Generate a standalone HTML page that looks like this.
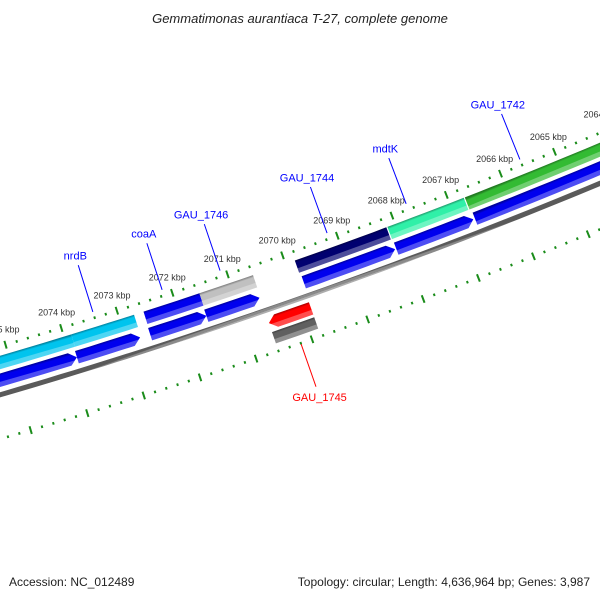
<!DOCTYPE html>
<html><head><meta charset="utf-8"><style>
html,body{margin:0;padding:0;background:#fff;}
svg{display:block;font-family:"Liberation Sans",sans-serif;}
</style></head><body>
<svg id="map" width="600" height="600" viewBox="0 0 600 600">
<defs id="defs"></defs>
<text x="300" y="23" text-anchor="middle" font-size="13" font-style="italic" fill="#222">Gemmatimonas aurantiaca T-27, complete genome</text>
<g id="ticks"></g>
<g id="genes"></g>
<g id="labels"></g>
<text x="9" y="586" font-size="12" fill="#222">Accession: NC_012489</text>
<text x="590" y="586" text-anchor="end" font-size="12" fill="#222">Topology: circular; Length: 4,636,964 bp; Genes: 3,987</text>
</svg>
<script>
// data (kbp)
const tickKbp = [2076,2075,2074,2073,2072,2071,2070,2069,2068,2067,2066,2065,2064,2063];
const tickLabels = ["2076 kbp","2075 kbp","2074 kbp","2073 kbp","2072 kbp","2071 kbp","2070 kbp","2069 kbp","2068 kbp","2067 kbp","2066 kbp","2065 kbp","2064 kbp","2063 kbp"];
const featStart = [2077.0, 2073.87, 2072.57, 2071.56, 2069.83, 2068.14, 2066.72];
const featEnd   = [2073.87, 2072.74, 2071.56, 2070.59, 2068.16, 2066.74, 2062.5];
const featColor = ["#00c4ee","#00c4ee","#0000ee","#c0c0c0","#000070","#30f0a8","#33bb33"];
const cdsStart = [2077.5, 2073.89, 2072.58, 2071.57, 2069.81, 2068.13, 2066.69];
const cdsEnd   = [2073.89, 2072.76, 2071.57, 2070.61, 2068.15, 2066.72, 2062.5];
const revStart = [2070.6];
const revEnd   = [2069.84];
const geneNames = ["nrdB","coaA","GAU_1746","GAU_1744","mdtK","GAU_1742","GAU_1745"];
const geneLabelKbp = [2073.4, 2072.15, 2071.1, 2069.15, 2067.7, 2065.6, 2070.2];

const NS="http://www.w3.org/2000/svg";
const CX=-1591.5, CY=-5078, R0=5653;
function P(k,r){const f=(73.0+0.59*(k-2074))*Math.PI/180;const R=R0+r;return [CX+R*Math.cos(f),CY+R*Math.sin(f)];}
function mk(tag,attrs,parent){const e=document.createElementNS(NS,tag);for(const a in attrs)e.setAttribute(a,attrs[a]);parent.appendChild(e);return e;}
const defs=document.getElementById('defs');
let gid=0;
function shade(hex,f){let n=parseInt(hex.slice(1),16);let r=n>>16,g=(n>>8)&255,b=n&255;
 if(f<0){r=r*(1+f);g=g*(1+f);b=b*(1+f);}else{r=r+(255-r)*f;g=g+(255-g)*f;b=b+(255-b)*f;}
 return "rgb("+Math.round(r)+","+Math.round(g)+","+Math.round(b)+")";}
function grad(k,r1,r2,col){const id="g"+(gid++);const a=P(k,r1),b=P(k,r2);
 const lg=mk('linearGradient',{id:id,gradientUnits:'userSpaceOnUse',x1:a[0],y1:a[1],x2:b[0],y2:b[1]},defs);
 const st=[[0,shade(col,-0.35)],[0.18,col],[0.6,col],[0.64,shade(col,0.3)],[1,shade(col,0.3)]];
 st.forEach(s=>mk('stop',{offset:s[0],'stop-color':s[1]},lg));return "url(#"+id+")";}
function arcPts(k1,k2,r){const pts=[];const n=Math.max(2,Math.ceil(Math.abs(k1-k2)*4));for(let i=0;i<=n;i++){pts.push(P(k1+(k2-k1)*i/n,r));}return pts;}
function band(kHi,kLo,r1,r2,col,head,parent,name){ // head: 0 none, 1 at kLo, -1 at kHi
 const h=0.13;const rm=(r1+r2)/2;let pts=[];
 let a=kHi,b=kLo;
 if(head===1)b=kLo+h; if(head===-1)a=kHi-h;
 pts=pts.concat(arcPts(a,b,r1));
 if(head===1)pts.push(P(kLo,rm));
 pts=pts.concat(arcPts(b,a,r2));
 if(head===-1)pts.push(P(kHi,rm));
 const e=mk('polygon',{points:pts.map(p=>p[0].toFixed(1)+","+p[1].toFixed(1)).join(" "),fill:grad((kHi+kLo)/2,r1,r2,col)},parent);
 
 
 return e;}

// ticks
const tg=document.getElementById('ticks');
[0,89].forEach(rr=>{
 for(let t=2063*5;t<=2077*5;t++){const k=t/5;const major=(t%5===0);const L=major?4:1.3;
  const a=P(k,rr-L),b=P(k,rr+L);
  const l=mk('line',{x1:a[0],y1:a[1],x2:b[0],y2:b[1],stroke:'#1a8c1a','stroke-width':2},tg);
  
  }
});
tickKbp.forEach((k,i)=>{const p=P(k,-16);
 const t=mk('text',{x:p[0].toFixed(1),y:(p[1]+3).toFixed(1),'text-anchor':'middle','font-size':9,fill:'#333'},tg);
 t.textContent=tickLabels[i];
 
 });

// genes
const gg=document.getElementById('genes');
// backbone
band(2078,2062,44,49,'#8a8a8a',0,gg,'backbone');
featStart.forEach((s,i)=>band(s,featEnd[i],9,22,featColor[i],0,gg,'feature-'+i));
cdsStart.forEach((s,i)=>band(s,cdsEnd[i],26,39,'#0000ee',1,gg,'cds-forward-'+i));
revStart.forEach((s,i)=>{band(s,revEnd[i],53,66,'#ff0000',-1,gg,'cds-reverse-'+i);
 band(s,revEnd[i],69,81,'#606060',0,gg,'feature-reverse-'+i);});

// gene labels with leader lines
const lg=document.getElementById('labels');
geneNames.forEach((n,i)=>{const k=geneLabelKbp[i];const rev=(n==="GAU_1745");
 const col=rev?'#ff0000':'#0000ff';
 const a=rev?P(k,90):P(k,-6), b=rev?P(k,135):P(k,-55), c=rev?P(k,146):P(k,-65);
 const l=mk('line',{x1:a[0],y1:a[1],x2:b[0],y2:b[1],stroke:col,'stroke-width':1},lg);
 
 
 const t=mk('text',{x:c[0].toFixed(1),y:(c[1]+4).toFixed(1),'text-anchor':'middle','font-size':11,fill:col},lg);
 t.textContent=n;
 
 });
</script>
</body></html>
